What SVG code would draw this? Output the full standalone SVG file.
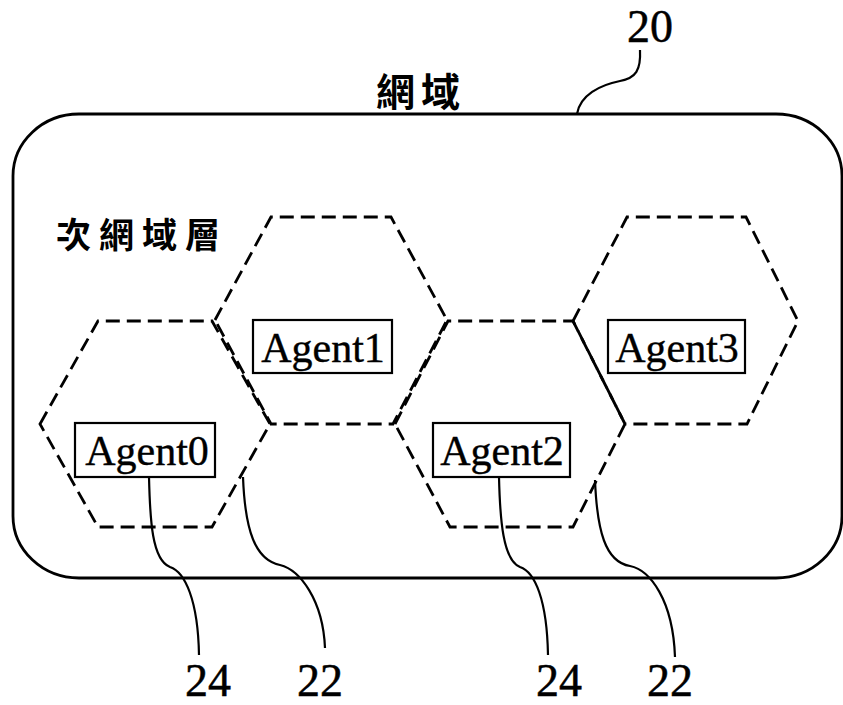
<svg xmlns="http://www.w3.org/2000/svg" width="843" height="705" viewBox="0 0 843 705">
<style>
.frame{fill:none;stroke:#000;stroke-width:2.8}
.hex{fill:none;stroke:#000;stroke-width:2.8;stroke-dasharray:14 7;stroke-linejoin:miter}
.box{fill:#fff;stroke:#000;stroke-width:2.2}
.lead{fill:none;stroke:#000;stroke-width:2.2}
.agent{font-family:"Liberation Serif",serif;font-size:42px;text-anchor:middle;fill:#000;stroke:#000;stroke-width:0.4}
.num{font-family:"Liberation Serif",serif;font-size:46px;text-anchor:middle;fill:#000;stroke:#000;stroke-width:0.5}
.cjk{font-family:"Noto Sans CJK TC","Noto Sans CJK SC",sans-serif;font-weight:700;fill:#000}
</style>
<rect width="843" height="705" fill="#fff"/>
<g id="domain">
  <rect class="frame" x="13" y="114" width="829" height="464" rx="66" ry="62"/>
  <text class="cjk" x="376" y="106" font-size="39" letter-spacing="6">網域</text>
  <text class="cjk" x="56" y="248" font-size="35" letter-spacing="8">次網域層</text>
</g>
<g id="hex0"><polygon class="hex" points="40,424 98,321 212,321 270,424 212,527 98,527"/></g>
<g id="hex1"><polygon class="hex" points="215,320 271,217 391,217 447,320 393,424 271,424"/></g>
<g id="hex2"><polygon class="hex" points="395,424 448,321 573,321 625,424 573,527 450,527"/></g>
<g id="hex3"><polygon class="hex" points="573,321 627,217 746,217 798,321 747,424 625,424"/></g>
<g id="agent0"><rect class="box" x="75" y="423" width="140" height="54"/><text class="agent" x="147" y="465">Agent0</text></g>
<g id="agent1"><rect class="box" x="253" y="320" width="139" height="53"/><text class="agent" x="323" y="362">Agent1</text></g>
<g id="agent2"><rect class="box" x="433" y="423" width="137" height="54"/><text class="agent" x="502" y="465">Agent2</text></g>
<g id="agent3"><rect class="box" x="608" y="320" width="137" height="53"/><text class="agent" x="677" y="362">Agent3</text></g>
<g id="connectors">
  <path class="lead" d="M640,50 C641,70 636,78 620,81 C600,85 580,95 577,114"/>
  <path class="lead" d="M149,477 C150,520 152,560 170,567 C185,572 198,600 199,655"/>
  <path class="lead" d="M243,477 C245,530 255,560 280,565 C300,570 323,600 325,648"/>
  <path class="lead" d="M499,477 C500,520 503,560 520,567 C535,572 547,600 548,655"/>
  <path class="lead" d="M595,480 C597,530 605,562 630,566 C650,570 673,600 675,657"/>
</g>
<g id="labels">
  <text class="num" x="650" y="42">20</text>
  <text class="num" x="208" y="696">24</text>
  <text class="num" x="320" y="696">22</text>
  <text class="num" x="559" y="696">24</text>
  <text class="num" x="670" y="696">22</text>
</g>
</svg>
